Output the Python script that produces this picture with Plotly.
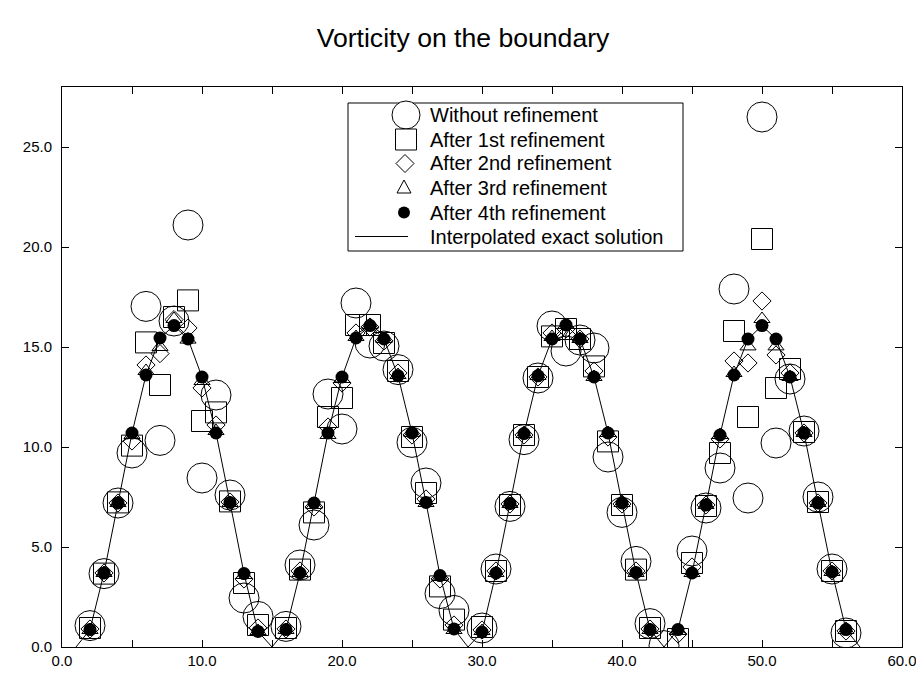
import plotly.graph_objects as go

# ---------------- data ----------------
x_nodes = [2, 3, 4, 5, 6, 7, 8, 9, 10, 11, 12, 13, 14,
           16, 17, 18, 19, 20, 21, 22, 23, 24, 25, 26, 27, 28,
           30, 31, 32, 33, 34, 35, 36, 37, 38, 39, 40, 41, 42,
           44, 45, 46, 47, 48, 49, 50, 51, 52, 53, 54, 55, 56]

x_without = [2, 3, 4, 5, 6, 7, 8, 9, 10, 11, 12, 13, 14,
             16, 17, 18, 19, 20, 21, 22, 23, 24, 25, 26, 27, 28,
             30, 31, 32, 33, 34, 35, 36, 37, 38, 39, 40, 41, 42,
             43, 45, 46, 47, 48, 49, 50, 51, 52, 53, 54, 55, 56]
y_without = [1.07, 3.67, 7.2, 9.7, 17.03, 10.33, 16.3, 21.1, 8.45, 12.6, 7.6, 2.45, 1.53,
             1.03, 4.1, 6.1, 12.65, 10.9, 17.2, 15.2, 15.05, 13.87, 10.23, 8.2, 2.67, 1.83,
             0.95, 3.9, 7.03, 10.37, 13.45, 16.05, 14.8, 15.35, 14.95, 9.5, 6.73, 4.28, 1.17,
             0.07, 4.8, 6.95, 8.95, 17.9, 7.45, 26.5, 10.2, 13.4, 10.8, 7.5, 3.9, 0.7]

y_ref1 = [0.95, 3.67, 7.23, 10.07, 15.23, 13.1, 16.5, 17.33, 11.3, 11.73, 7.28, 3.2, 1.1,
          0.95, 3.87, 6.73, 11.5, 12.45, 16.1, 16.1, 15.2, 13.8, 10.5, 7.7, 3.03, 1.37,
          1.0, 3.8, 7.1, 10.6, 13.5, 15.53, 15.9, 15.4, 14.03, 10.28, 7.1, 3.87, 0.95,
          0.4, 4.2, 7.05, 9.7, 15.8, 11.5, 20.4, 12.95, 13.9, 10.75, 7.25, 3.8, 0.8]

y_ref2 = [0.9, 3.7, 7.2, 10.3, 14.1, 14.67, 16.37, 15.95, 12.95, 11.1, 7.25, 3.4, 0.95,
          0.9, 3.8, 7.0, 11.0, 13.2, 15.7, 16.0, 15.3, 13.7, 10.6, 7.4, 3.4, 1.1,
          0.85, 3.8, 7.15, 10.6, 13.5, 15.7, 15.9, 15.4, 13.8, 10.5, 7.15, 3.8, 0.9,
          0.65, 4.0, 7.1, 10.4, 14.3, 14.2, 17.3, 14.6, 13.7, 10.7, 7.2, 3.8, 0.8]

y_ref3 = [0.85, 3.7, 7.2, 10.6, 13.8, 15.0, 16.4, 15.37, 13.3, 10.8, 7.2, 3.6, 0.8,
          0.85, 3.7, 7.1, 10.6, 13.4, 15.5, 16.1, 15.4, 13.6, 10.7, 7.2, 3.5, 0.85,
          0.8, 3.7, 7.15, 10.65, 13.55, 15.5, 16.1, 15.4, 13.5, 10.7, 7.2, 3.7, 0.85,
          0.8, 3.7, 7.1, 10.6, 13.7, 15.03, 16.4, 15.03, 13.5, 10.7, 7.2, 3.75, 0.85]

y_ref4 = [0.87, 3.7, 7.2, 10.7, 13.6, 15.45, 16.07, 15.4, 13.5, 10.7, 7.23, 3.67, 0.78,
          0.87, 3.7, 7.2, 10.7, 13.5, 15.45, 16.07, 15.4, 13.56, 10.7, 7.23, 3.57, 0.9,
          0.75, 3.7, 7.17, 10.67, 13.56, 15.4, 16.1, 15.4, 13.5, 10.7, 7.2, 3.73, 0.87,
          0.87, 3.7, 7.1, 10.6, 13.6, 15.4, 16.07, 15.4, 13.5, 10.7, 7.2, 3.75, 0.87]

x_exact = [1, 2, 3, 4, 5, 6, 7, 8, 9, 10, 11, 12, 13, 14, 15,
           16, 17, 18, 19, 20, 21, 22, 23, 24, 25, 26, 27, 28, 29,
           30, 31, 32, 33, 34, 35, 36, 37, 38, 39, 40, 41, 42, 43,
           44, 45, 46, 47, 48, 49, 50, 51, 52, 53, 54, 55, 56, 57]
y_exact = [0.0, 0.87, 3.7, 7.2, 10.7, 13.6, 15.45, 16.07, 15.4, 13.5, 10.7, 7.23, 3.67, 0.78, 0.0,
           0.87, 3.7, 7.2, 10.7, 13.5, 15.45, 16.07, 15.4, 13.56, 10.7, 7.23, 3.57, 0.9, 0.0,
           0.75, 3.7, 7.17, 10.67, 13.56, 15.4, 16.1, 15.4, 13.5, 10.7, 7.2, 3.73, 0.87, 0.0,
           0.87, 3.7, 7.1, 10.6, 13.6, 15.4, 16.07, 15.4, 13.5, 10.7, 7.2, 3.75, 0.87, 0.0]

series_names = ["Without refinement", "After 1st refinement", "After 2nd refinement",
                "After 3rd refinement", "After 4th refinement", "Interpolated exact solution"]

x_tickvals = [0, 5, 10, 15, 20, 25, 30, 35, 40, 45, 50, 55, 60]
x_ticktext = ["0.0", "", "10.0", "", "20.0", "", "30.0", "", "40.0", "", "50.0", "", "60.0"]
y_tickvals = [0, 5, 10, 15, 20, 25]
y_ticktext = ["0.0", "5.0", "10.0", "15.0", "20.0", "25.0"]

# ---------------- figure ----------------
FONT = "Liberation Sans, Arial, Helvetica, sans-serif"
BLACK = "#000000"

fig = go.Figure()

fig.add_trace(go.Scatter(
    x=x_without, y=y_without, mode="markers", name=series_names[0],
    marker=dict(symbol="circle-open", size=30, color=BLACK, line=dict(width=1, color=BLACK))))
fig.add_trace(go.Scatter(
    x=x_nodes, y=y_ref1, mode="markers", name=series_names[1],
    marker=dict(symbol="square-open", size=21, color=BLACK, line=dict(width=1, color=BLACK))))
fig.add_trace(go.Scatter(
    x=x_nodes, y=y_ref2, mode="markers", name=series_names[2],
    marker=dict(symbol="diamond-open", size=14, color=BLACK, line=dict(width=1, color=BLACK))))
fig.add_trace(go.Scatter(
    x=x_nodes, y=y_ref3, mode="markers", name=series_names[3],
    marker=dict(symbol="triangle-up-open", size=14, color=BLACK, line=dict(width=1, color=BLACK))))
fig.add_trace(go.Scatter(
    x=x_nodes, y=y_ref4, mode="markers", name=series_names[4],
    marker=dict(symbol="circle", size=13, color=BLACK, line=dict(width=0))))
fig.add_trace(go.Scatter(
    x=x_exact, y=y_exact, mode="lines", name=series_names[5],
    line=dict(color=BLACK, width=1)))

axis_common = dict(
    showgrid=False, zeroline=False, showline=True, linecolor=BLACK, linewidth=1,
    mirror="ticks", ticks="inside", ticklen=7, tickwidth=1, tickcolor=BLACK,
    tickfont=dict(family=FONT, size=15, color=BLACK),
)

# ---- hand-drawn legend box (the page is offset by the 8px body margin) ----
PL, PT, PW, PH = 62, 87, 840, 560      # plot area in page pixels


def px(xp):
    return (xp - PL) / PW


def py(yp):
    return (PT + PH - yp) / PH


shapes = [dict(type="rect", xref="paper", yref="paper",
               x0=px(348), x1=px(683), y0=py(251), y1=py(103),
               line=dict(color=BLACK, width=1), fillcolor="white", layer="above")]
rows = [115, 139.5, 163.5, 188, 212.5, 236.5]
sym_x = 406
common_sym = dict(xref="paper", yref="paper", xsizemode="pixel", ysizemode="pixel",
                  layer="above", line=dict(color=BLACK, width=1))
# circle
shapes.append(dict(type="circle", xanchor=px(sym_x), yanchor=py(rows[0]),
                   x0=-14, x1=14, y0=-14, y1=14, fillcolor="white", **common_sym))
# square
shapes.append(dict(type="rect", xanchor=px(sym_x), yanchor=py(rows[1]),
                   x0=-10.5, x1=10.5, y0=-10.5, y1=10.5, fillcolor="white", **common_sym))
# diamond
shapes.append(dict(type="path", xanchor=px(sym_x - 1), yanchor=py(rows[2]),
                   path="M-9,0 L0,9 L9,0 L0,-9 Z", fillcolor="white", **common_sym))
# triangle (apex up)
shapes.append(dict(type="path", xanchor=px(sym_x - 2), yanchor=py(rows[3]),
                   path="M-7,-5 L7,-5 L0,8 Z", fillcolor="white", **common_sym))
# filled dot
shapes.append(dict(type="circle", xanchor=px(sym_x - 2), yanchor=py(rows[4]),
                   x0=-6, x1=6, y0=-6, y1=6, fillcolor=BLACK,
                   xref="paper", yref="paper", xsizemode="pixel", ysizemode="pixel",
                   layer="above", line=dict(color=BLACK, width=0)))
# line
shapes.append(dict(type="line", xref="paper", yref="paper",
                   x0=px(355), x1=px(408), y0=py(rows[5]), y1=py(rows[5]),
                   line=dict(color=BLACK, width=1), layer="above"))

annotations = [dict(text=name, xref="paper", yref="paper", x=px(428), y=py(r),
                    xanchor="left", yanchor="middle", showarrow=False,
                    font=dict(family=FONT, size=20, color=BLACK))
               for name, r in zip(series_names, rows)]

fig.update_layout(
    width=924, height=680,
    paper_bgcolor="white", plot_bgcolor="white",
    margin=dict(l=54, r=30, t=79, b=41),
    title=dict(text="Vorticity on the boundary", x=(463 - 8) / 924, xanchor="center",
               y=1 - 30 / 680, yanchor="middle",
               font=dict(family=FONT, size=26.6, color=BLACK)),
    xaxis=dict(range=[0, 60], tickvals=x_tickvals, ticktext=x_ticktext, **axis_common),
    yaxis=dict(range=[0, 28], tickvals=y_tickvals, ticktext=y_ticktext,
               ticklabelstandoff=6, **axis_common),
    showlegend=False,
    shapes=shapes,
    annotations=annotations,
    font=dict(family=FONT, color=BLACK),
)

fig.write_html("out.html")
